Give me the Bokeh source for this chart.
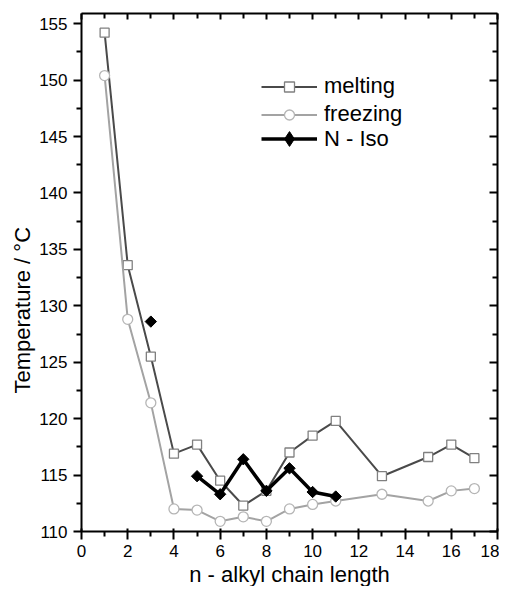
import numpy as np
from bokeh.plotting import figure
from bokeh.models import LinearAxis, FixedTicker, Range1d, Title, Legend, LegendItem
from bokeh.embed import file_html
from bokeh.resources import INLINE

# ---- data ----
chain = [1, 2, 3, 4, 5, 6, 7, 8, 9, 10, 11, 13, 15, 16, 17]
melting = [154.2, 133.6, 125.5, 116.9, 117.7, 114.5, 112.3, 113.6, 117.0, 118.5, 119.8, 114.9, 116.6, 117.7, 116.5]
freezing = [150.4, 128.8, 121.4, 112.0, 111.9, 110.9, 111.3, 110.9, 112.0, 112.4, 112.7, 113.3, 112.7, 113.6, 113.8]
niso_chain = [3, 5, 6, 7, 8, 9, 10, 11]
niso = [128.6, 114.9, 113.3, 116.4, 113.6, 115.6, 113.5, 113.1]

x_major = [0, 2, 4, 6, 8, 10, 12, 14, 16, 18]
x_minor = [1, 3, 5, 7, 9, 11, 13, 15, 17]
y_major = [110, 115, 120, 125, 130, 135, 140, 145, 150, 155]
y_minor = [112.5, 117.5, 122.5, 127.5, 132.5, 137.5, 142.5, 147.5, 152.5]

FONT = "Liberation Sans"

p = figure(width=499, height=586, x_range=Range1d(0, 18), y_range=Range1d(110, 155.9),
           output_backend="svg", toolbar_location=None,
           min_border_left=81, min_border_right=2, min_border_top=13, min_border_bottom=40)
p.grid.visible = False
p.outline_line_color = None
p.background_fill_color = "white"
p.border_fill_color = "white"

def style_axis(ax, labels=True, tick_in=0, tick_out=8, minor_in=0, minor_out=5):
    ax.axis_line_width = 2
    ax.axis_line_color = "black"
    ax.major_tick_line_width = 2
    ax.minor_tick_line_width = 2
    ax.major_tick_in = tick_in
    ax.major_tick_out = tick_out
    ax.minor_tick_in = minor_in
    ax.minor_tick_out = minor_out
    ax.axis_label = None
    if labels:
        ax.major_label_text_font = FONT
        ax.major_label_text_font_size = "17px"
        ax.major_label_text_color = "black"
        ax.major_label_standoff = 6
    else:
        ax.major_label_overrides = {t: "" for t in ax.ticker.ticks}
        ax.major_label_text_font_size = "1px"
        ax.major_label_standoff = 0

p.xaxis.ticker = FixedTicker(ticks=x_major, minor_ticks=x_minor)
p.yaxis.ticker = FixedTicker(ticks=y_major, minor_ticks=y_minor)
p.yaxis.major_label_overrides = {v: str(v) for v in y_major}
for ax in p.xaxis:
    style_axis(ax, True, tick_in=3, tick_out=8, minor_in=0, minor_out=5)
for ax in p.yaxis:
    style_axis(ax, True, tick_in=0, tick_out=8, minor_in=0, minor_out=5)
p.xaxis.major_label_standoff = 5

top = LinearAxis(ticker=FixedTicker(ticks=x_major, minor_ticks=x_minor))
style_axis(top, False, tick_in=6, tick_out=0, minor_in=5, minor_out=0)
p.add_layout(top, "above")
right = LinearAxis(ticker=FixedTicker(ticks=y_major, minor_ticks=y_minor))
style_axis(right, False, tick_in=8, tick_out=0, minor_in=5, minor_out=0)
p.add_layout(right, "right")

# ---- axis titles ----
x_title = Title(text="n - alkyl chain length", align="center", standoff=0,
                text_font=FONT, text_font_size="22px", text_font_style="normal",
                text_color="black")
p.add_layout(x_title, "below")
y_title = Title(text="Temperature / \u00b0C", align="left", offset=138, standoff=3,
                text_font=FONT, text_font_size="22px", text_font_style="normal",
                text_color="black")
p.add_layout(y_title, "left")

# ---- series ----
MELT_LINE = "#4a4a4a"
MELT_EDGE = "#808080"
FREEZE_LINE = "#a3a3a3"
FREEZE_EDGE = "#b5b5b5"

l1 = p.line(chain, melting, line_color=MELT_LINE, line_width=2)
s1 = p.scatter(chain, melting, marker="square", size=9, fill_color="white",
               line_color=MELT_EDGE, line_width=1.3)

l2 = p.line(chain, freezing, line_color=FREEZE_LINE, line_width=2)
s2 = p.scatter(chain, freezing, marker="circle", size=10, fill_color="white",
               line_color=FREEZE_EDGE, line_width=1.3)

l3 = p.line(niso_chain[1:], niso[1:], line_color="black", line_width=3.5)
s3 = p.scatter(niso_chain, niso, marker="square", angle=np.pi / 4, size=8,
               fill_color="black", line_color="black", line_width=1)
# legend-only symbol (the legend shows an upright diamond); hidden in the plot
s3_leg = p.scatter(niso_chain, niso, marker="diamond", size=15, fill_color="black",
                   line_color="black", line_width=1, visible=False)

def style_legend(lg, gh):
    lg.glyph_width = 56
    lg.glyph_height = gh
    lg.label_height = 20
    lg.label_standoff = 7
    lg.spacing = 2
    lg.padding = 0
    lg.margin = 0
    lg.border_line_alpha = 0
    lg.background_fill_alpha = 0
    lg.inactive_fill_alpha = 0
    lg.label_text_font = FONT
    lg.label_text_font_size = "22px"
    lg.label_text_color = "black"

legend_a = Legend(items=[
    LegendItem(label="melting", renderers=[l1, s1]),
    LegendItem(label="freezing", renderers=[l2, s2]),
], location=(180, 404))
style_legend(legend_a, 25)
p.add_layout(legend_a, "center")

legend_b = Legend(items=[
    LegendItem(label="N - Iso", renderers=[l3, s3_leg]),
], location=(180, 374))
style_legend(legend_b, 37)
p.add_layout(legend_b, "center")

open("out.html", "w").write(file_html(p, INLINE))
